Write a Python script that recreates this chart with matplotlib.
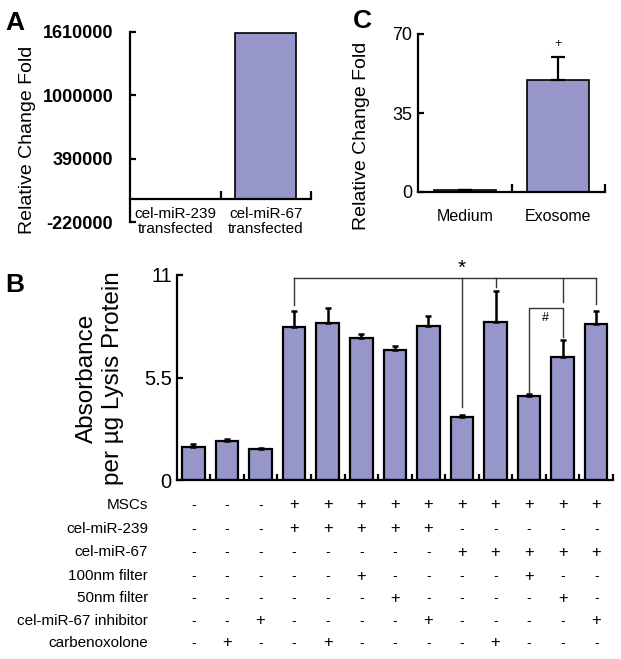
import matplotlib
matplotlib.use("Agg")
import matplotlib.pyplot as plt
import matplotlib.transforms as mtransforms
import numpy as np

plt.rcParams['font.family'] = ['Liberation Sans', 'DejaVu Sans']

# Panel A data
a_labels = ["cel-miR-239\ntransfected", "cel-miR-67\ntransfected"]
a_values = [1, 1600000]
a_ticks = [-220000, 390000, 1000000, 1610000]

# Panel C data
c_labels = ["Medium", "Exosome"]
c_values = [1.0, 49.6]
c_err = [0.0, 10.2]
c_ticks = [0, 35, 70]

# Panel B data
b_values = [1.79, 2.09, 1.65, 8.19, 8.40, 7.62, 6.97, 8.28, 3.36, 8.46, 4.49, 6.62, 8.37]
b_err = [0.14, 0.13, 0.08, 0.88, 0.81, 0.21, 0.20, 0.52, 0.13, 1.68, 0.12, 0.89, 0.71]
b_ticks = [0, 5.5, 11]
row_names = ["MSCs", "cel-miR-239", "cel-miR-67", "100nm filter", "50nm filter",
             "cel-miR-67 inhibitor", "carbenoxolone"]
rows = [
    "---++++++++++",
    "---+++++-----",
    "--------+++++",
    "-----+----+--",
    "------+----+-",
    "--+----+----+",
    "-+--+----+---",
]

BAR = '#9696CA'
W, H = 621, 659
fig = plt.figure(figsize=(W / 100, H / 100), dpi=100)


def px_axes(l, t, r, b):
    return fig.add_axes([l / W, 1 - b / H, (r - l) / W, (b - t) / H])


def style(ax, pad):
    ax.spines['top'].set_visible(False)
    ax.spines['right'].set_visible(False)
    ax.spines['left'].set_linewidth(1.6)
    ax.spines['bottom'].set_linewidth(1.6)
    ax.tick_params(axis='y', direction='in', length=4, width=1.6, pad=pad)
    ax.tick_params(axis='x', direction='in', length=4, width=1.6, labelbottom=False)
    ax.patch.set_alpha(0)


# ---- Panel A
axA = px_axes(130, 32, 311, 222)
style(axA, 12)
xa = np.arange(len(a_values)) + 0.5
axA.bar(xa, a_values, width=0.67, color=BAR, edgecolor='black', linewidth=1.2)
axA.spines['bottom'].set_position(('data', 0))
axA.set_xlim(0, 2)
axA.set_ylim(-220000, 1610000)
axA.set_yticks(a_ticks)
axA.set_yticklabels([str(t) for t in a_ticks], fontsize=13, fontweight='bold')
axA.set_xticks([1, 2])
axA.tick_params(axis='x', direction='in', length=6)
for x, lab in zip(xa, a_labels):
    axA.text(x, -72000, lab, ha='center', va='top', fontsize=11, linespacing=1.15)
fig.text(28 / W, 1 - 140 / H, "Relative Change Fold", rotation=90, fontsize=14,
         ha='center', va='center')
fig.text(5 / W, 1 - 30 / H, "A", fontsize=19, fontweight='bold')

# ---- Panel C
axC = px_axes(418, 34, 605, 192)
style(axC, 4)
xc = np.arange(len(c_values)) + 0.5
axC.bar(xc, c_values, width=0.66, color=BAR, edgecolor='black', linewidth=1.2,
        yerr=[np.zeros(len(c_err)), c_err], error_kw=dict(ecolor='black', elinewidth=1.6,
                                                           capsize=5, capthick=1.6))
axC.set_xlim(0, 2)
axC.set_ylim(0, 70)
axC.set_yticks(c_ticks)
axC.set_yticklabels([str(t) for t in c_ticks], fontsize=13)
axC.set_xticks([1, 2])
axC.tick_params(axis='x', direction='in', length=6)
for x, lab in zip(xc, c_labels):
    axC.text(x, -11, lab, ha='center', va='center', fontsize=11.5)
axC.text(xc[1], c_values[1] + c_err[1] + 3, "+", ha='center', va='bottom', fontsize=9)
fig.text(362 / W, 1 - 136 / H, "Relative Change Fold", rotation=90, fontsize=14,
         ha='center', va='center')
fig.text(353 / W, 1 - 28 / H, "C", fontsize=19, fontweight='bold')

# ---- Panel B
axB = px_axes(176.7, 275, 613, 480)
style(axB, 3.5)
xb = np.arange(len(b_values)) + 0.5
axB.bar(xb, b_values, width=0.67, color=BAR, edgecolor='black', linewidth=1.6,
        yerr=[np.zeros(len(b_err)), b_err], error_kw=dict(ecolor='black', elinewidth=1.8,
                                                           capsize=2.5, capthick=1.8))
axB.set_xlim(0, 13)
axB.set_ylim(0, 11)
axB.set_yticks(b_ticks)
axB.set_yticklabels(["0", "5.5", "11"], fontsize=14.5)
axB.set_xticks(np.arange(1, 14))
axB.tick_params(axis='x', direction='in', length=4)
fig.text(100 / W, 1 - 378 / H, "Absorbance\nper \u00b5g Lysis Protein", rotation=90,
         fontsize=17.5, ha='center', va='center', multialignment='center',
         linespacing=1.2)
fig.text(5 / W, 1 - 292 / H, "B", fontsize=19, fontweight='bold')

# significance brackets
lk = dict(color='#333333', lw=1.0, clip_on=False)
top = 10.82
axB.plot([xb[3], xb[12]], [top, top], **lk)
for i, lo in [(3, 9.39), (8, 3.93), (9, 10.37), (11, 9.53), (12, 9.42)]:
    axB.plot([xb[i], xb[i]], [top, lo], **lk)
axB.text(xb[8], top + 0.05, "*", ha='center', va='bottom', fontsize=15)
inner = 9.21
axB.plot([xb[10], xb[10], xb[11], xb[11]], [4.74, inner, inner, 7.65], **lk)
axB.text((xb[10] + xb[11]) / 2, 8.67, "#", ha='center', va='center', fontsize=9)

# condition table under panel B
row_y = [505, 529, 552, 576, 598, 621, 643]
trans = mtransforms.blended_transform_factory(axB.transData, fig.transFigure)
for name, row, y in zip(row_names, rows, row_y):
    yf = 1 - y / H
    fig.text(148 / W, yf, name, ha='right', va='center', fontsize=11)
    for x, s in zip(xb, row):
        axB.text(x, yf, s, transform=trans, ha='center', va='center',
                 fontsize=12 if s == '+' else 10)

fig.savefig("out.png", dpi=100)
